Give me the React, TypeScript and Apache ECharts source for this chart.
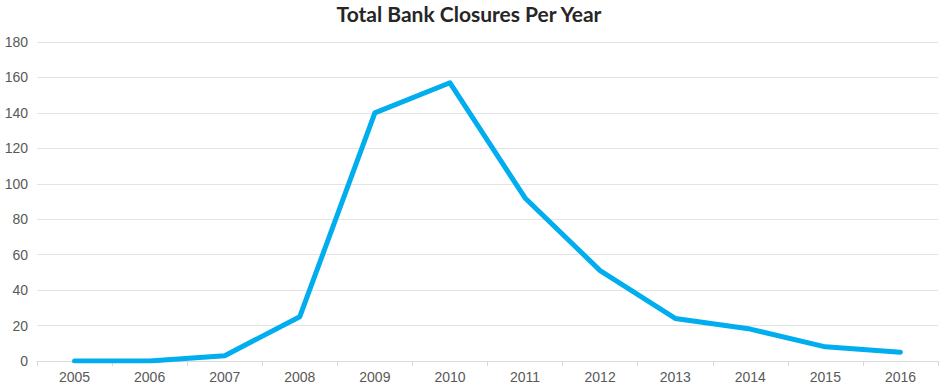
import React, { useEffect, useRef } from "react";
import * as echarts from "echarts";

const years = ["2005", "2006", "2007", "2008", "2009", "2010", "2011", "2012", "2013", "2014", "2015", "2016"];
const closures = [0, 0, 3, 25, 140, 157, 92, 51, 24, 18, 8, 5];
const titleText = "Total Bank Closures Per Year";

export default function App() {
  const ref = useRef<HTMLDivElement>(null);
  useEffect(() => {
    const chart = echarts.init(ref.current!, null, { renderer: "svg" });
    chart.setOption({
      animation: false,
      title: {
        text: titleText,
        left: 469,
        textAlign: "center",
        top: 0,
        padding: 0,
        textStyle: { fontFamily: "Lato", fontWeight: "bold", fontSize: 21, color: "#262626", lineHeight: 26 },
      },
      grid: { left: 37, right: 2, top: 42, bottom: 25, containLabel: false },
      xAxis: {
        type: "category",
        data: years,
        boundaryGap: true,
        axisLine: { lineStyle: { color: "#d9d9d9", width: 1 } },
        axisTick: { show: true, length: 5, lineStyle: { color: "#d9d9d9" } },
        axisLabel: { color: "#595959", fontSize: 14, fontFamily: "Liberation Sans", margin: 9 },
      },
      yAxis: {
        type: "value",
        min: 0,
        max: 180,
        interval: 20,
        axisLine: { show: false },
        axisTick: { show: false },
        splitLine: { lineStyle: { color: "#e3e3e3", width: 1 } },
        axisLabel: { color: "#595959", fontSize: 14, fontFamily: "Liberation Sans", margin: 9 },
      },
      series: [
        {
          type: "line",
          data: closures,
          showSymbol: false,
          symbol: "none",
          lineStyle: { color: "#00aeef", width: 5, cap: "round", join: "round" },
        },
      ],
    });
    return () => chart.dispose();
  }, []);
  return <div ref={ref} style={{ width: 940, height: 386, position: "absolute", left: 0, top: 0 }} />;
}
